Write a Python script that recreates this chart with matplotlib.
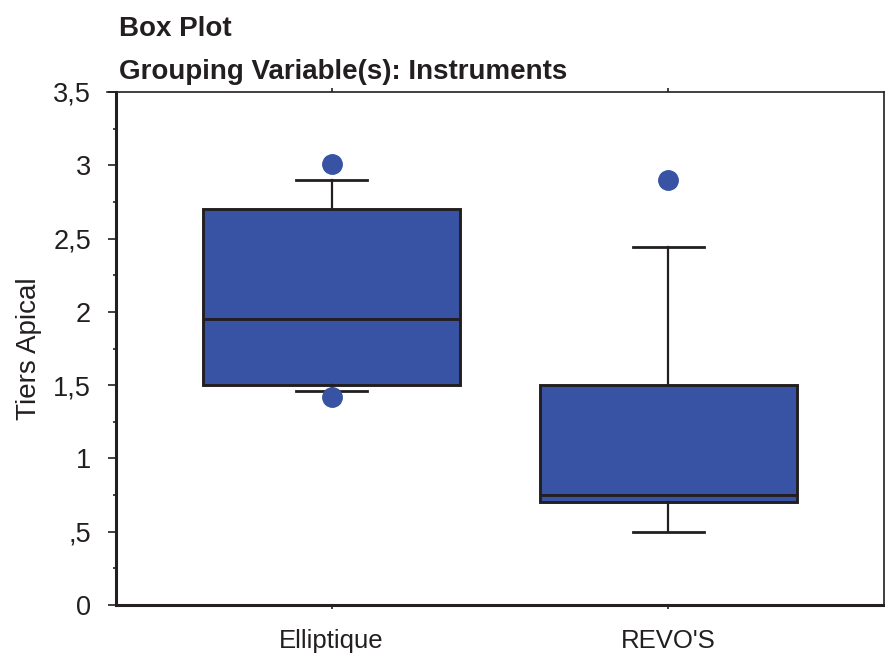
import numpy as np
import matplotlib.pyplot as plt
from matplotlib.ticker import FuncFormatter, MultipleLocator
from matplotlib.lines import Line2D

plt.rcParams['font.family'] = ['Liberation Sans', 'DejaVu Sans']

groups = ['Elliptique', "REVO'S"]
q1 = [1.5, 0.7]
med = [1.95, 0.75]
q3 = [2.7, 1.5]
whis_lo = [1.46, 0.5]
whis_hi = [2.9, 2.44]
outliers = [[3.01, 1.42], [2.9]]

blue = '#3853a4'
dark = '#231f20'

fig = plt.figure(figsize=(8.85, 6.57), dpi=100)
ax = fig.add_axes([0.131, 0.079, 0.868, 0.781])

stats = []
for i in range(len(groups)):
    stats.append(dict(label=groups[i], q1=q1[i], med=med[i], q3=q3[i],
                      whislo=whis_lo[i], whishi=whis_hi[i], fliers=outliers[i]))

ax.bxp(stats, positions=[1, 2], widths=0.765, patch_artist=True,
       showfliers=True,
       boxprops=dict(facecolor=blue, edgecolor=dark, linewidth=2.1),
       medianprops=dict(color=dark, linewidth=2.1),
       whiskerprops=dict(color=dark, linewidth=1.6),
       capprops=dict(color=dark, linewidth=2.0),
       capwidths=0.21,
       flierprops=dict(marker='o', markerfacecolor=blue, markeredgecolor=blue,
                       markersize=14))

ax.set_xlim(0.36, 2.64)
ax.set_ylim(0, 3.5)

ax.yaxis.set_major_locator(MultipleLocator(0.5))
ax.yaxis.set_minor_locator(MultipleLocator(0.25))


def fmt(v, pos):
    s = ('%g' % v).replace('.', ',')
    if s.startswith('0,'):
        s = s[1:]
    return s


ax.yaxis.set_major_formatter(FuncFormatter(fmt))
ax.tick_params(axis='y', which='major', direction='out', length=6, width=1.2,
               labelsize=19.5, colors=dark, pad=12)
ax.tick_params(axis='y', which='minor', direction='out', length=2.5, width=1.2,
               colors=dark)
ax.tick_params(axis='x', which='major', direction='out', length=3, width=1.2,
               labelsize=18.5, colors=dark, pad=14, top=True)

ax.spines['left'].set_linewidth(2.2)
ax.spines['bottom'].set_linewidth(2.2)
ax.spines['top'].set_linewidth(1.2)
ax.spines['right'].set_linewidth(1.2)
for s in ax.spines.values():
    s.set_color(dark)

# top frame line runs a little past the left axis, as in the original
ax.add_line(Line2D([-0.011, 0], [1, 1], transform=ax.transAxes, color=dark,
                   linewidth=1.2, clip_on=False))

ax.set_ylabel('Tiers Apical', fontsize=20, color=dark, labelpad=8)

fig.text(0.1345, 0.945, 'Box Plot', fontsize=20, fontweight='bold',
         color=dark, ha='left', va='baseline')
fig.text(0.1345, 0.880, 'Grouping Variable(s): Instruments', fontsize=20,
         fontweight='bold', color=dark, ha='left', va='baseline')

fig.savefig('out.png', dpi=100)
